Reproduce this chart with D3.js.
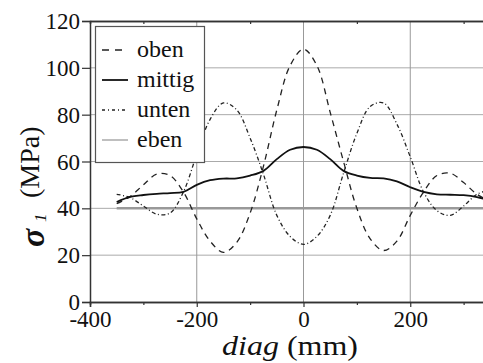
<!DOCTYPE html>
<html lang="de">
<head>
<meta charset="UTF-8">
<title>sigma1 diag</title>
<script src="https://cdn.jsdelivr.net/npm/d3@7"></script>
<style>
  body { margin: 0; background: #fff; }
</style>
</head>
<body>
<script>
// Werte
var diag   = [-350,-325,-300,-275,-250,-225,-200,-175,-150,-125,-100,-75,-50,-25,0,25,50,75,100,125,150,175,200,225,250,275,300,325,350];
var oben   = [42,45,50,54.6,54,47,35.5,26,21.2,25.5,38,58,82,101,108,101,81,60,40,27,22,26,37,47,54,55,51,46,43];
var mittig = [42.7,44.9,45.7,46.2,46.5,47,50,52,52.7,52.8,54,56,61,65,66.2,65,61,56,54,53,52.8,51.5,49,47,46,45.8,45.6,44.8,43.2];
var unten  = [46,44.6,41,37.5,38,47,63,78,85,82,70,54.5,37,28,24.6,28,37,55,72,83.5,85,76,62,47,39,37,41,46,48];
var ebenX  = [-350, 350];
var ebenY  = [40, 40];

var xTicks = [-400,-200,0,200];
var xMinor = [-300,-100,100,300];
var yTicks = [0,20,40,60,80,100,120];
var yGrid  = [20,40,60,80,100];
var seriesNames = ["oben","mittig","unten","eben"];

var FONT = "Liberation Serif";
var width = 483, height = 363;
var svg = d3.select("body").append("svg").attr("width", width).attr("height", height)
            .attr("font-family", FONT);

var x = d3.scaleLinear().domain([-400, 400]).range([90, 517]);
var y = d3.scaleLinear().domain([0, 120]).range([302, 21]);

// Gitter
svg.append("g").selectAll("line").data(yGrid).enter().append("line")
   .attr("x1", x(-400)).attr("x2", x(400))
   .attr("y1", function(d){ return y(d); }).attr("y2", function(d){ return y(d); })
   .attr("stroke", "#aaa").attr("stroke-width", 1);
svg.append("g").selectAll("line").data([-200,0,200]).enter().append("line")
   .attr("x1", function(d){ return x(d); }).attr("x2", function(d){ return x(d); })
   .attr("y1", y(0)).attr("y2", y(120))
   .attr("stroke", "#999").attr("stroke-width", 1);

// Achsen
var yAxis = d3.axisLeft(y).tickValues(yTicks).tickSize(8).tickPadding(2);
var gy = svg.append("g").attr("transform", "translate(" + x(-400) + ",0)").call(yAxis);

var xAxis = d3.axisBottom(x).tickValues(xTicks).tickSize(5).tickPadding(4)
              .tickFormat(function(d){ return d < 0 ? "-" + Math.abs(d) : d; });
var gx = svg.append("g").attr("transform", "translate(0," + y(0) + ")").call(xAxis);

var gxm = svg.append("g").attr("transform", "translate(0," + y(0) + ")")
             .call(d3.axisBottom(x).tickValues(xMinor).tickSize(3).tickFormat(""));
var gxt = svg.append("g").attr("transform", "translate(0," + y(120) + ")")
             .call(d3.axisBottom(x).tickValues(xMinor).tickSize(3).tickFormat(""));
var gxt2 = svg.append("g").attr("transform", "translate(0," + y(120) + ")")
             .call(d3.axisTop(x).tickValues(xTicks).tickSize(0).tickFormat(""));

[gy, gx, gxm, gxt, gxt2].forEach(function(g){
  g.attr("font-family", FONT).attr("font-size", 23);
  g.select(".domain").attr("stroke", "#333").attr("stroke-width", 1.5);
  g.selectAll(".tick line").attr("stroke", "#333").attr("stroke-width", 1.2);
  g.selectAll("text").attr("fill", "#111");
});
gy.selectAll("text").attr("dy", "0.33em");

// Kurven
var line = d3.line()
  .x(function(d){ return x(d[0]); })
  .y(function(d){ return y(d[1]); })
  .curve(d3.curveCatmullRom.alpha(0.5));

function pairs(xs, ys){ return xs.map(function(v, i){ return [v, ys[i]]; }); }

svg.append("path").datum(pairs(ebenX, ebenY)).attr("d", line)
   .attr("fill", "none").attr("stroke", "#999").attr("stroke-width", 2.5);
svg.append("path").datum(pairs(diag, oben)).attr("d", line)
   .attr("fill", "none").attr("stroke", "#222").attr("stroke-width", 1.3)
   .attr("stroke-dasharray", "6,5");
svg.append("path").datum(pairs(diag, unten)).attr("d", line)
   .attr("fill", "none").attr("stroke", "#222").attr("stroke-width", 1.3)
   .attr("stroke-dasharray", "4,2.5,1,2.5");
svg.append("path").datum(pairs(diag, mittig)).attr("d", line)
   .attr("fill", "none").attr("stroke", "#111").attr("stroke-width", 1.8);

// Legende
var leg = svg.append("g");
leg.append("rect").attr("x", 95.5).attr("y", 26.5).attr("width", 109).attr("height", 136)
   .attr("fill", "#fff").attr("stroke", "#555").attr("stroke-width", 1.2);
var legStyle = [
  {dash: "7,6", color: "#222", w: 1.3},
  {dash: null, color: "#111", w: 1.8},
  {dash: "3,3,1,3", color: "#222", w: 1.3},
  {dash: null, color: "#aaa", w: 1.5}
];
seriesNames.forEach(function(name, i){
  var yy = 50 + i * 30;
  leg.append("line").attr("x1", 102).attr("x2", 128).attr("y1", yy).attr("y2", yy)
     .attr("stroke", legStyle[i].color).attr("stroke-width", legStyle[i].w)
     .attr("stroke-dasharray", legStyle[i].dash);
  leg.append("text").attr("x", 137).attr("y", yy + 7).text(name)
     .attr("font-size", 24).attr("fill", "#111");
});

// Achsentitel
var xl = svg.append("text").attr("x", 222).attr("y", 355)
            .attr("font-size", 27).attr("fill", "#111")
            .attr("textLength", 136).attr("lengthAdjust", "spacingAndGlyphs");
xl.append("tspan").attr("font-style", "italic").text("diag");
xl.append("tspan").text(" (mm)");

svg.append("text").attr("transform", "translate(44,247) rotate(-90)")
   .attr("font-size", 34).attr("font-style", "italic").attr("font-weight", "bold")
   .attr("fill", "#111").text("σ");
svg.append("text").attr("transform", "translate(46,222) rotate(-90)")
   .attr("font-size", 17).attr("font-style", "italic")
   .attr("fill", "#111").text("1");
svg.append("text").attr("transform", "translate(38.5,198) rotate(-90)")
   .attr("font-size", 28).attr("fill", "#111").text("(MPa)");
</script>
</body>
</html>
